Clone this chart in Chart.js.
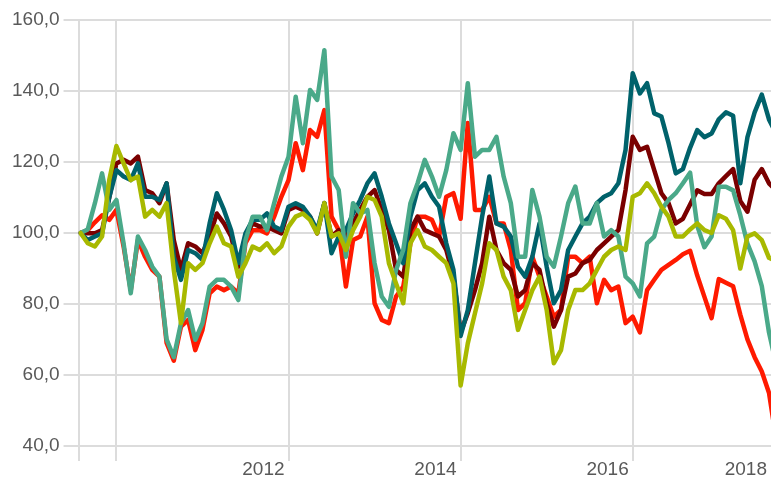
<!DOCTYPE html>
<html>
<head>
<meta charset="utf-8">
<script src="https://cdn.jsdelivr.net/npm/chart.js@4.4.0/dist/chart.umd.min.js"></script>
<style>
	html, body { margin: 0; padding: 0; background: #fff; }
	#wrap { width: 771px; height: 479px; }
</style>
</head>
<body>
<div id="wrap"><canvas id="myChart" width="771" height="479"></canvas></div>
<script>
// monthly observations, index = 100 at start
const months = [
	'2009-08', '2009-09', '2009-10', '2009-11', '2009-12',
	'2010-01', '2010-02', '2010-03', '2010-04', '2010-05', '2010-06', '2010-07', '2010-08', '2010-09', '2010-10', '2010-11', '2010-12',
	'2011-01', '2011-02', '2011-03', '2011-04', '2011-05', '2011-06', '2011-07', '2011-08', '2011-09', '2011-10', '2011-11', '2011-12',
	'2012-01', '2012-02', '2012-03', '2012-04', '2012-05', '2012-06', '2012-07', '2012-08', '2012-09', '2012-10', '2012-11', '2012-12',
	'2013-01', '2013-02', '2013-03', '2013-04', '2013-05', '2013-06', '2013-07', '2013-08', '2013-09', '2013-10', '2013-11', '2013-12',
	'2014-01', '2014-02', '2014-03', '2014-04', '2014-05', '2014-06', '2014-07', '2014-08', '2014-09', '2014-10', '2014-11', '2014-12',
	'2015-01', '2015-02', '2015-03', '2015-04', '2015-05', '2015-06', '2015-07', '2015-08', '2015-09', '2015-10', '2015-11', '2015-12',
	'2016-01', '2016-02', '2016-03', '2016-04', '2016-05', '2016-06', '2016-07', '2016-08', '2016-09', '2016-10', '2016-11', '2016-12',
	'2017-01', '2017-02', '2017-03', '2017-04', '2017-05', '2017-06', '2017-07', '2017-08', '2017-09',
];

const yellowSeries = [
	100, 97.1, 96.2, 99, 114.9, 124.5, 119.6, 114.9, 115.9, 104.6, 106.5, 104.6, 108.4, 89.6, 74.6, 91.5, 89.6, 91.5, 97.1, 101.8, 97.1, 96.2, 87.7, 91.5, 96.2,
	95.2, 97.1, 94.3, 96.2, 101.8, 104.6, 105.5, 103.7, 99.9, 108.4, 99, 99.9, 95.2, 100.8, 104.6, 110.2, 109.3, 104.6, 91.5, 85.8, 80.2, 97.1, 100.8, 96.2,
	95.2, 93.3, 91.5, 85.8, 57, 68.9, 77.4, 85.8, 97.1, 95.2, 87.7, 83.9, 72.7, 78.3, 83.9, 87.7, 78.3, 63.3, 67, 78.3, 83.9, 83.9, 85.8, 89.6, 93.3,
	95.2, 96.2, 95.2, 110.2, 111.2, 114, 111.2, 107.4, 104.6, 99, 99, 101, 102.7, 100.8, 100, 105, 104, 100.8, 90, 99, 99.9, 98, 93, 92,
];
const greenSeries = [
	100, 101, 108.4, 116.8, 106.5, 109.3, 97.1, 83, 99, 95.2, 90.5, 87.7, 70, 65, 74.6, 78.3, 69.9, 74.6, 84.9, 86.8, 86.8, 84.9, 81.1, 98, 104.6,
	104.6, 100.8, 108.4, 115.9, 121.5, 138.4, 125.3, 140.3, 137.5, 151.5, 115.9, 112.1, 93.3, 108.4, 105.5, 106.5, 91.5, 82.1, 79.2, 89.6, 95.2, 108.4, 114, 120.6,
	115.9, 110.2, 117.7, 128.1, 123.4, 142.2, 121.5, 123.4, 123.4, 127.1, 115.9, 108.4, 93.3, 93.3, 112.1, 104.6, 93.3, 90.5, 99, 108.4, 113.1, 102.7, 102.7, 108.4, 99,
	100.8, 99, 87.7, 85.8, 82.1, 97.1, 99, 106.5, 109.3, 111.2, 114, 117, 102, 96, 99, 113, 113, 112, 105, 97, 92, 85, 72, 63,
];
const tealSeries = [
	100, 98, 99, 99.9, 110, 117.7, 115.9, 114.9, 119.6, 110.2, 110.2, 109.3, 114, 93.3, 86.8, 95.2, 94.3, 92.4, 102.7, 111.2, 106.5, 100.8, 91.5, 99.9, 103.7,
	103.7, 105.5, 101.8, 100.8, 107.4, 108.4, 107.4, 104.6, 100.8, 108.4, 94.3, 99, 100.8, 105.5, 109.3, 114, 116.8, 110.2, 102.7, 97.1, 91.5, 104.6, 112.1, 114,
	110.2, 107.4, 97.1, 89.6, 71, 78.3, 91.5, 104.6, 115.9, 102.7, 101.8, 99, 90.5, 87.7, 93.3, 102.7, 90.5, 80.2, 83.9, 95.2, 99, 102.7, 104.6, 108.4, 110.2,
	111.2, 114, 123.4, 145, 139.3, 142.2, 133.7, 132.8, 125.3, 116.8, 118, 124, 129, 127, 128, 132, 134, 133, 114, 127, 134, 139, 132, 128,
];
const maroonSeries = [
	100, 99.9, 99.9, 100.8, 110, 119.6, 120.6, 119.6, 121.5, 112.1, 111.2, 108.4, 114, 98, 89.6, 97.1, 96.2, 94.3, 99, 105.5, 102.7, 99, 90.5, 99, 102.7,
	101.8, 101.8, 100.8, 99.9, 106.5, 107.4, 106.5, 104.6, 99.9, 108.4, 99, 100.8, 99, 102.7, 106.5, 110.2, 112.1, 106.5, 100.8, 89.6, 87.7, 100.8, 104.6, 100.8,
	99.9, 99, 95.2, 87.7, 72, 77.4, 83.9, 91.5, 104.6, 95.2, 91.5, 89.6, 82.1, 83.9, 91.5, 89.6, 80.2, 73.6, 78.3, 87.7, 88.6, 91.5, 92.4, 95.2, 97.1,
	99, 100.8, 112.1, 127.1, 123.4, 124.3, 117.7, 111.2, 108.4, 102.7, 104, 108, 112, 111, 111, 114, 116, 118, 109, 106, 115, 118, 114, 112,
];
const redSeries = [
	100, 100.8, 103, 105, 103.7, 106.5, 96.2, 83.9, 98, 93.3, 89.6, 87.7, 69, 64, 73.6, 75.5, 67, 72.7, 83, 84.9, 83.9, 84.9, 83, 97.1, 100.8,
	100.8, 99.9, 104.6, 110.2, 114.9, 125.3, 117.7, 129, 127.1, 134.6, 104.6, 100.8, 84.9, 98, 99, 104.6, 80.2, 75.5, 74.6, 82.1, 84.9, 97.1, 104.6, 104.6,
	103.7, 99, 110.2, 111.2, 104, 131, 106.5, 106.5, 110.2, 102.7, 102.7, 95.2, 78.3, 80.2, 93.3, 87.7, 82.1, 76.4, 78.3, 93.3, 93.3, 91.5, 93.3, 80.2, 86.8,
	83.9, 84.9, 74.6, 76.4, 72, 83.9, 86.8, 89.6, 91, 92.4, 94, 95, 88, 82, 76, 87, 86, 85, 77, 70, 65, 61, 55, 42,
];

const xTickYears = [2010, 2012, 2014, 2016];
const xTickLabels = ['', '2012', '2014', '2016'];
const lastTickLabel = '2018';

const X_MIN = 2009.56;
const X_MAX = 2017.607;
const GRID = '#dcdcdc';
const TEXT = '#595959';
const FONT = "'Liberation Sans', Arial, sans-serif";

const toYear = function (m) {
	const parts = m.split('-');
	return Number(parts[0]) + (Number(parts[1]) - 1) / 12;
};
const xs = months.map(toYear);

const makeLine = function (label, values, color) {
	return {
		label: label,
		data: values.map((v, i) => ({ x: xs[i], y: v })),
		borderColor: color,
		backgroundColor: color,
		borderWidth: 4.5,
		pointRadius: 0,
		tension: 0,
		fill: false,
		borderJoinStyle: 'round',
		borderCapStyle: 'round',
	};
};

const createChart = function () {
	const data = {
		datasets: [
			makeLine('yellow', yellowSeries, '#a8b900'),
			makeLine('green', greenSeries, '#4aa989'),
			makeLine('teal', tealSeries, '#00626b'),
			makeLine('maroon', maroonSeries, '#7a0000'),
			makeLine('red', redSeries, '#ff1a00'),
		],
	};

	const config = {
		type: 'line',
		data: data,
		options: {
			responsive: false,
			animation: false,
			layout: { padding: { left: 8, top: 20, right: 0, bottom: 0 } },
			plugins: {
				legend: { display: false },
				tooltip: { enabled: false },
			},
			scales: {
				x: {
					type: 'linear',
					min: X_MIN,
					max: X_MAX,
					afterBuildTicks: function (scale) {
						const vals = [X_MIN].concat(xTickYears, [X_MAX]);
						scale.ticks = vals.map((v) => ({ value: v }));
					},
					border: { display: false },
					grid: {
						lineWidth: 2,
						tickLength: 15,
						color: (ctx) => (ctx.tick && ctx.tick.value === X_MAX ? 'rgba(0,0,0,0)' : GRID),
					},
					ticks: {
						align: 'end',
						labelOffset: -4,
						padding: 0,
						maxRotation: 0,
						autoSkip: false,
						color: TEXT,
						font: { family: FONT, size: 19, lineHeight: 0.95 },
						callback: function (value) {
							if (value === X_MAX) return lastTickLabel;
							const idx = xTickYears.indexOf(value);
							return idx >= 0 ? xTickLabels[idx] : '';
						},
					},
				},
				y: {
					min: 40,
					max: 160,
					border: { display: false },
					grid: { color: GRID, lineWidth: 2, tickLength: 15 },
					ticks: {
						stepSize: 20,
						padding: 4,
						color: TEXT,
						font: { family: FONT, size: 19 },
						callback: (v) => v.toFixed(1).replace('.', ','),
					},
				},
			},
		},
	};

	const ctx = document.getElementById('myChart');
	const myChart = new Chart(ctx, config);
};

const init = function () {
	createChart();
};
document.addEventListener('DOMContentLoaded', init);
</script>
</body>
</html>
